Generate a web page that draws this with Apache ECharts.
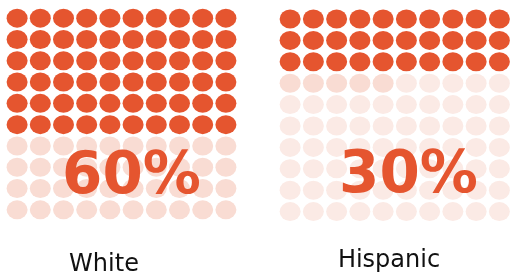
<!DOCTYPE html>
<html>
<head>
<meta charset="utf-8">
<script src="https://cdn.jsdelivr.net/npm/echarts@6/dist/echarts.min.js"></script>
<style>
html,body{margin:0;padding:0;background:#fff;}
#chart{width:511px;height:278px;}
</style>
</head>
<body>
<div id="chart"></div>
<script>
// ---- data ----
const groups = ['White', 'Hispanic'];
const percentLabels = ['60%', '30%'];
const filledCells = [60, 30];      // dark cells out of 100
const midCells = [0, 5];           // medium-tint cells after the dark ones
const gridCols = 10;
const gridRows = 10;

// ---- styles / layout ----
const DARK = '#e5552f';
const MID = '#f9dcd3';
const LIGHT = ['#f9dcd3', '#fbeae5'];
const gridBoxes = [
  {left: 5.5, top: 7.5, width: 232, height: 213},
  {left: 278.5, top: 8.3, width: 233, height: 214}
];
const labelPos = [[104, 264.5], [389, 260.5]];
const pctPos = [[131.5, 177.5], [408.5, 176.5]];
const FONT = 'DejaVu Sans';

function cellsFor(gi) {
  const dark = [], mid = [], light = [];
  for (let i = 0; i < gridCols * gridRows; i++) {
    const pt = [i % gridCols, Math.floor(i / gridCols)];
    if (i < filledCells[gi]) dark.push(pt);
    else if (i < filledCells[gi] + midCells[gi]) mid.push(pt);
    else light.push(pt);
  }
  return {dark, mid, light};
}

const grid = [], xAxis = [], yAxis = [], series = [], graphic = [];
groups.forEach((g, gi) => {
  grid.push(Object.assign({containLabel: false}, gridBoxes[gi]));
  xAxis.push({type: 'value', gridIndex: gi, min: -0.5, max: gridCols - 0.5, show: false});
  yAxis.push({type: 'value', gridIndex: gi, min: -0.5, max: gridRows - 0.5, inverse: true, show: false});
  const c = cellsFor(gi);
  const base = {type: 'scatter', xAxisIndex: gi, yAxisIndex: gi, symbol: 'circle',
    symbolSize: [21, 19], silent: true, animation: false};
  series.push(Object.assign({}, base, {name: g + ' empty', data: c.light, itemStyle: {color: LIGHT[gi], opacity: 1}, z: 1}));
  series.push(Object.assign({}, base, {name: g + ' mid', data: c.mid, itemStyle: {color: MID, opacity: 1}, z: 2}));
  series.push(Object.assign({}, base, {name: g, data: c.dark, itemStyle: {color: DARK, opacity: 1}, z: 3}));
  graphic.push({type: 'text', x: pctPos[gi][0], y: pctPos[gi][1], z: 10,
    style: {text: percentLabels[gi], fill: DARK, font: 'bold 58px "' + FONT + '"',
      textAlign: 'center', textVerticalAlign: 'middle'}});
  graphic.push({type: 'text', x: labelPos[gi][0], y: labelPos[gi][1], z: 10,
    style: {text: g, fill: '#111', font: '24px "' + FONT + '"',
      textAlign: 'center', textVerticalAlign: 'middle'}});
});

const chart = echarts.init(document.getElementById('chart'), null, {renderer: 'canvas'});
chart.setOption({animation: false, grid, xAxis, yAxis, series, graphic});
</script>
</body>
</html>
